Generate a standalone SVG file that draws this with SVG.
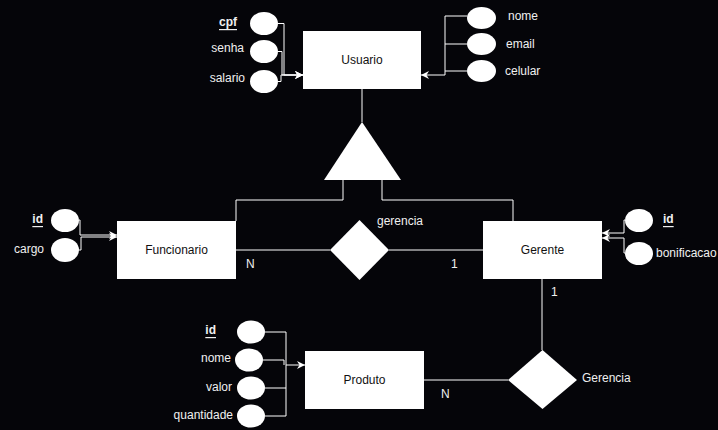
<svg xmlns="http://www.w3.org/2000/svg" width="718" height="430" viewBox="0 0 718 430">
<style>
text{font-family:"Liberation Sans",Arial,sans-serif;font-size:12px;fill:#f0f0f0;dominant-baseline:central}
.ent rect{fill:#fff}
.ent text{fill:#111;text-anchor:middle}
.att ellipse{fill:#fff}
.k{font-weight:bold;text-decoration:underline}
.e{text-anchor:end}
.c path,.c line{fill:none;stroke:#fff;stroke-width:1}
.g{stroke:#bbb}
.arr{marker-end:url(#a)}
</style>
<defs>
<marker id="a" markerUnits="userSpaceOnUse" markerWidth="10" markerHeight="10" refX="8" refY="4" orient="auto">
<path d="M0,0 L8,4 L0,8 L2.5,4 z" fill="#fff"/>
</marker>
</defs>
<rect width="718" height="430" fill="#050509"/>
<g class="c" id="connectors">
<path class="arr" d="M278,23.5 H284 V75 H303"/>
<path class="arr" d="M278,51.5 H282 V75 H303"/>
<path class="arr" d="M278,81.5 H281 V75 H303"/>
<path class="arr" d="M467,16 H445 V75 H421"/>
<path d="M467,44 H445"/>
<path d="M467,71 H445"/>
<line x1="362" y1="89" x2="362" y2="122"/>
<path d="M343,180 V200 H236 V221"/>
<path d="M382,180 V200 H513 V221"/>
<line x1="236" y1="250" x2="330" y2="250"/>
<line x1="389" y1="250" x2="483" y2="250"/>
<path class="arr" d="M79,220 H80 V235 H117"/>
<path class="arr" d="M79,250 H81 V237 H117"/>
<path class="arr" d="M625,220 H624 V233 H602"/>
<path class="arr" d="M625,253 H624 V238 H602"/>
<line x1="542" y1="279" x2="542" y2="350"/>
<line x1="424" y1="380" x2="508" y2="380"/>
<path class="arr" d="M265,332 H286 V365 H305"/>
<path d="M263,360 H284 V365"/>
<path d="M265,388 H286 V365"/>
<path d="M265,416 H286 V388"/>
</g>
<g id="usuario" class="ent"><rect x="303" y="31" width="118" height="58"/><text x="362" y="60">Usuario</text></g>
<g id="isa"><polygon points="362,122 401,180 324,180" fill="#fff"/></g>
<g id="funcionario" class="ent"><rect x="117" y="221" width="119" height="58"/><text x="176.5" y="250">Funcionario</text></g>
<g id="gerente" class="ent"><rect x="483" y="221" width="119" height="58"/><text x="542.5" y="250">Gerente</text></g>
<g id="produto" class="ent"><rect x="305" y="351" width="119" height="58"/><text x="364.5" y="380">Produto</text></g>
<g id="rel-gerencia"><polygon points="359.5,220 389,250 359.5,280 330,250" fill="#fff"/><text x="377" y="221">gerencia</text><text x="246" y="264">N</text><text x="451" y="264">1</text></g>
<g id="rel-Gerencia"><polygon points="542.5,350 577,380 542.5,409 508,380" fill="#fff"/><text x="582" y="378">Gerencia</text><text x="551" y="292">1</text><text x="441" y="394">N</text></g>
<g id="att-usuario-cpf" class="att"><ellipse cx="264" cy="23.5" rx="14" ry="11.5"/><text class="k" x="228" y="22" text-anchor="middle">cpf</text></g>
<g id="att-usuario-senha" class="att"><ellipse cx="264" cy="51.5" rx="14" ry="11.5"/><text class="e" x="244" y="48">senha</text></g>
<g id="att-usuario-salario" class="att"><ellipse cx="264" cy="81.5" rx="14" ry="11.5"/><text class="e" x="245" y="78">salario</text></g>
<g id="att-usuario-nome" class="att"><ellipse cx="481.5" cy="18" rx="14.5" ry="11"/><text x="508" y="16">nome</text></g>
<g id="att-usuario-email" class="att"><ellipse cx="481.5" cy="44" rx="14.5" ry="11"/><text x="506" y="44">email</text></g>
<g id="att-usuario-celular" class="att"><ellipse cx="481.5" cy="71" rx="14.5" ry="11"/><text x="505" y="71">celular</text></g>
<g id="att-func-id" class="att"><ellipse cx="65" cy="220.5" rx="14" ry="11.5"/><text class="k e" x="43" y="219">id</text></g>
<g id="att-func-cargo" class="att"><ellipse cx="65" cy="250" rx="14" ry="12"/><text class="e" x="44" y="249">cargo</text></g>
<g id="att-ger-id" class="att"><ellipse cx="639" cy="220.5" rx="14" ry="11.5"/><text class="k" x="663" y="219">id</text></g>
<g id="att-ger-bonificacao" class="att"><ellipse cx="639" cy="253.5" rx="14" ry="11.5"/><text x="656" y="253">bonificacao</text></g>
<g id="att-prod-id" class="att"><ellipse cx="251" cy="332" rx="14" ry="11.5"/><text class="k e" x="216" y="330">id</text></g>
<g id="att-prod-nome" class="att"><ellipse cx="249" cy="360" rx="14" ry="11.5"/><text class="e" x="231" y="358">nome</text></g>
<g id="att-prod-valor" class="att"><ellipse cx="251" cy="388" rx="14" ry="11.5"/><text class="e" x="232" y="387">valor</text></g>
<g id="att-prod-quantidade" class="att"><ellipse cx="251" cy="416" rx="14" ry="11.5"/><text class="e" x="233" y="415">quantidade</text></g>
</svg>
